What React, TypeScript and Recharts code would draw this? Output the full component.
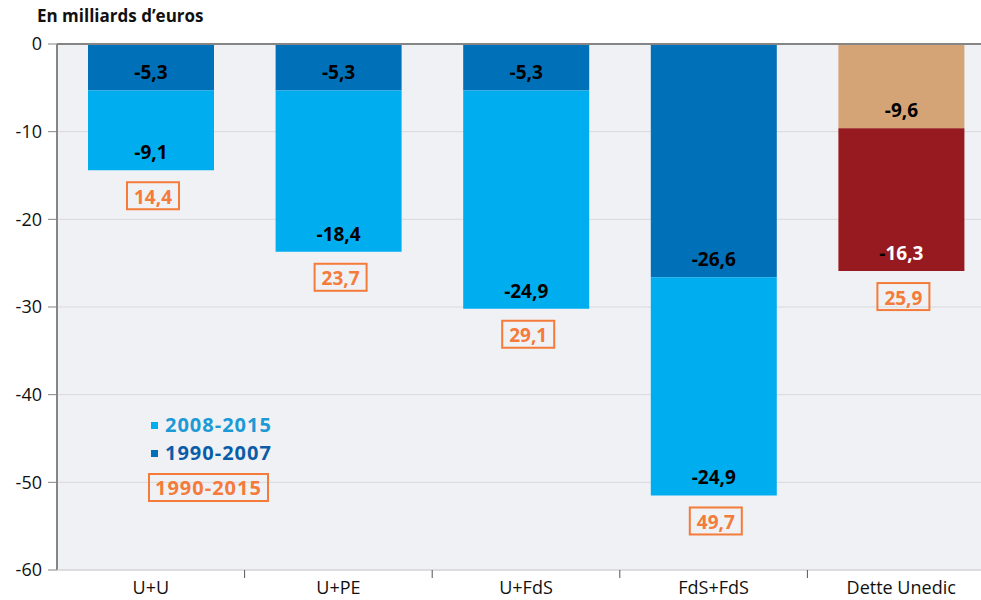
import React from "react";
import { BarChart, Bar, XAxis, YAxis, CartesianGrid, ReferenceLine, LabelList, Cell } from "recharts";

const categories = ["U+U", "U+PE", "U+FdS", "FdS+FdS", "Dette Unedic"];
const periodeHaut = [-5.3, -5.3, -5.3, -26.6, -9.6]; // 1990-2007 (Unedic : partie claire)
const periodeBas = [-9.1, -18.4, -24.9, -24.9, -16.3]; // 2008-2015 (Unedic : partie foncée)
const totaux = [14.4, 23.7, 29.1, 49.7, 25.9];
const yTicks = [0, -10, -20, -30, -40, -50, -60];

const couleursHaut = ["#0070b8", "#0070b8", "#0070b8", "#0070b8", "#d5a476"];
const couleursBas = ["#00aeef", "#00aeef", "#00aeef", "#00aeef", "#961a1f"];

const FONT = "'Open Sans', sans-serif";
const ORANGE = "#f47b3a";
const CHART_W = 1000;
const Y_W = 57;
const RIGHT = 5;
const BAND = (CHART_W - Y_W - RIGHT) / categories.length;

const data = categories.map((c, i) => ({ cat: c, haut: periodeHaut[i], bas: periodeBas[i] }));

const fmt = (v: number) => v.toFixed(1).replace(".", ",");

const ValeurLabel = (props: any) => {
  const { x, y, width, height, value, index } = props;
  if (value == null) return null;
  const bottom = Math.max(y, y + height);
  const cx = x + width / 2;
  const s = fmt(value);
  const blanc = index === 4 && value === periodeBas[4];
  return (
    <text x={cx} y={bottom - 18} textAnchor="middle" dominantBaseline="central"
      fontFamily={FONT} fontWeight={700} fontSize={19} fill="#000">
      {blanc ? (<><tspan fill="#000">-</tspan><tspan fill="#fff">{s.slice(1)}</tspan></>) : s}
    </text>
  );
};

const TotalLabel = (props: any) => {
  const { x, y, width, height, index } = props;
  const bottom = Math.max(y, y + height);
  const cx = x + width / 2 + 2;
  const w = 52;
  const h = 27;
  return (
    <g>
      <rect x={cx - w / 2} y={bottom + 12} width={w} height={h} fill="none" stroke={ORANGE} strokeWidth={2} />
      <text x={cx} y={bottom + 12 + h / 2 + 1} textAnchor="middle" dominantBaseline="central"
        fontFamily={FONT} fontWeight={700} fontSize={19} fill={ORANGE}>
        {fmt(totaux[index])}
      </text>
    </g>
  );
};

const XTick = (props: any) => {
  const { x, y, payload, index } = props;
  return (
    <g>
      {index > 0 && <line x1={x - BAND / 2} x2={x - BAND / 2} y1={y} y2={y + 8} stroke="#555" strokeWidth={1} />}
      <text x={x} y={y + 24} textAnchor="middle" fontFamily={FONT} fontSize={18} fill="#111">
        {payload.value}
      </text>
    </g>
  );
};

const Legende = () => (
  <div style={{ position: "absolute", left: 151, top: 411, fontFamily: FONT, fontWeight: 700, fontSize: 20, lineHeight: "28px", letterSpacing: 1 }}>
    <div style={{ color: "#1b9ad6", display: "flex", alignItems: "center" }}>
      <span style={{ width: 7, height: 7, background: "#00aeef", marginRight: 7, display: "inline-block" }} />
      2008-2015
    </div>
    <div style={{ color: "#0b5ca8", display: "flex", alignItems: "center" }}>
      <span style={{ width: 7, height: 7, background: "#0070b8", marginRight: 7, display: "inline-block" }} />
      1990-2007
    </div>
    <div style={{ color: ORANGE, border: `2px solid ${ORANGE}`, marginLeft: -3, marginTop: 6, padding: "0 5px", lineHeight: "25px", width: "fit-content" }}>
      1990-2015
    </div>
  </div>
);

export default function App() {
  return (
    <div style={{ position: "absolute", left: 0, top: 0, width: 981, height: 600, overflow: "hidden", background: "#fff" }}>
      <div style={{ position: "absolute", left: 37, top: 4, fontFamily: FONT, fontWeight: 700, fontSize: 17, color: "#111" }}>
        En milliards d’euros
      </div>
      <BarChart width={CHART_W} height={600} data={data} margin={{ top: 44, right: RIGHT, bottom: 0, left: 0 }} barSize={126}>
        <CartesianGrid vertical={false} stroke="#d9d9dc" fill="#f0f1f4" />
        <YAxis domain={[-60, 0]} ticks={yTicks} width={Y_W} axisLine={{ stroke: "#858585", strokeWidth: 2 }}
          tickLine={{ stroke: "#858585" }} tickSize={9} tickMargin={6} interval={0}
          tick={{ fontFamily: FONT, fontSize: 18, fill: "#111" }} />
        <XAxis dataKey="cat" height={30} axisLine={{ stroke: "#d0d0d3" }} tickLine={false} tickSize={0} tickMargin={0}
          interval={0} tick={<XTick />} />
        <Bar dataKey="haut" stackId="a" isAnimationActive={false}>
          {data.map((_, i) => <Cell key={i} fill={couleursHaut[i]} />)}
          <LabelList dataKey="haut" content={<ValeurLabel />} />
        </Bar>
        <Bar dataKey="bas" stackId="a" isAnimationActive={false}>
          {data.map((_, i) => <Cell key={i} fill={couleursBas[i]} />)}
          <LabelList dataKey="bas" content={<ValeurLabel />} />
          <LabelList dataKey="bas" content={<TotalLabel />} />
        </Bar>
        <ReferenceLine y={0} stroke="#858585" strokeWidth={2} />
      </BarChart>
      <Legende />
    </div>
  );
}
